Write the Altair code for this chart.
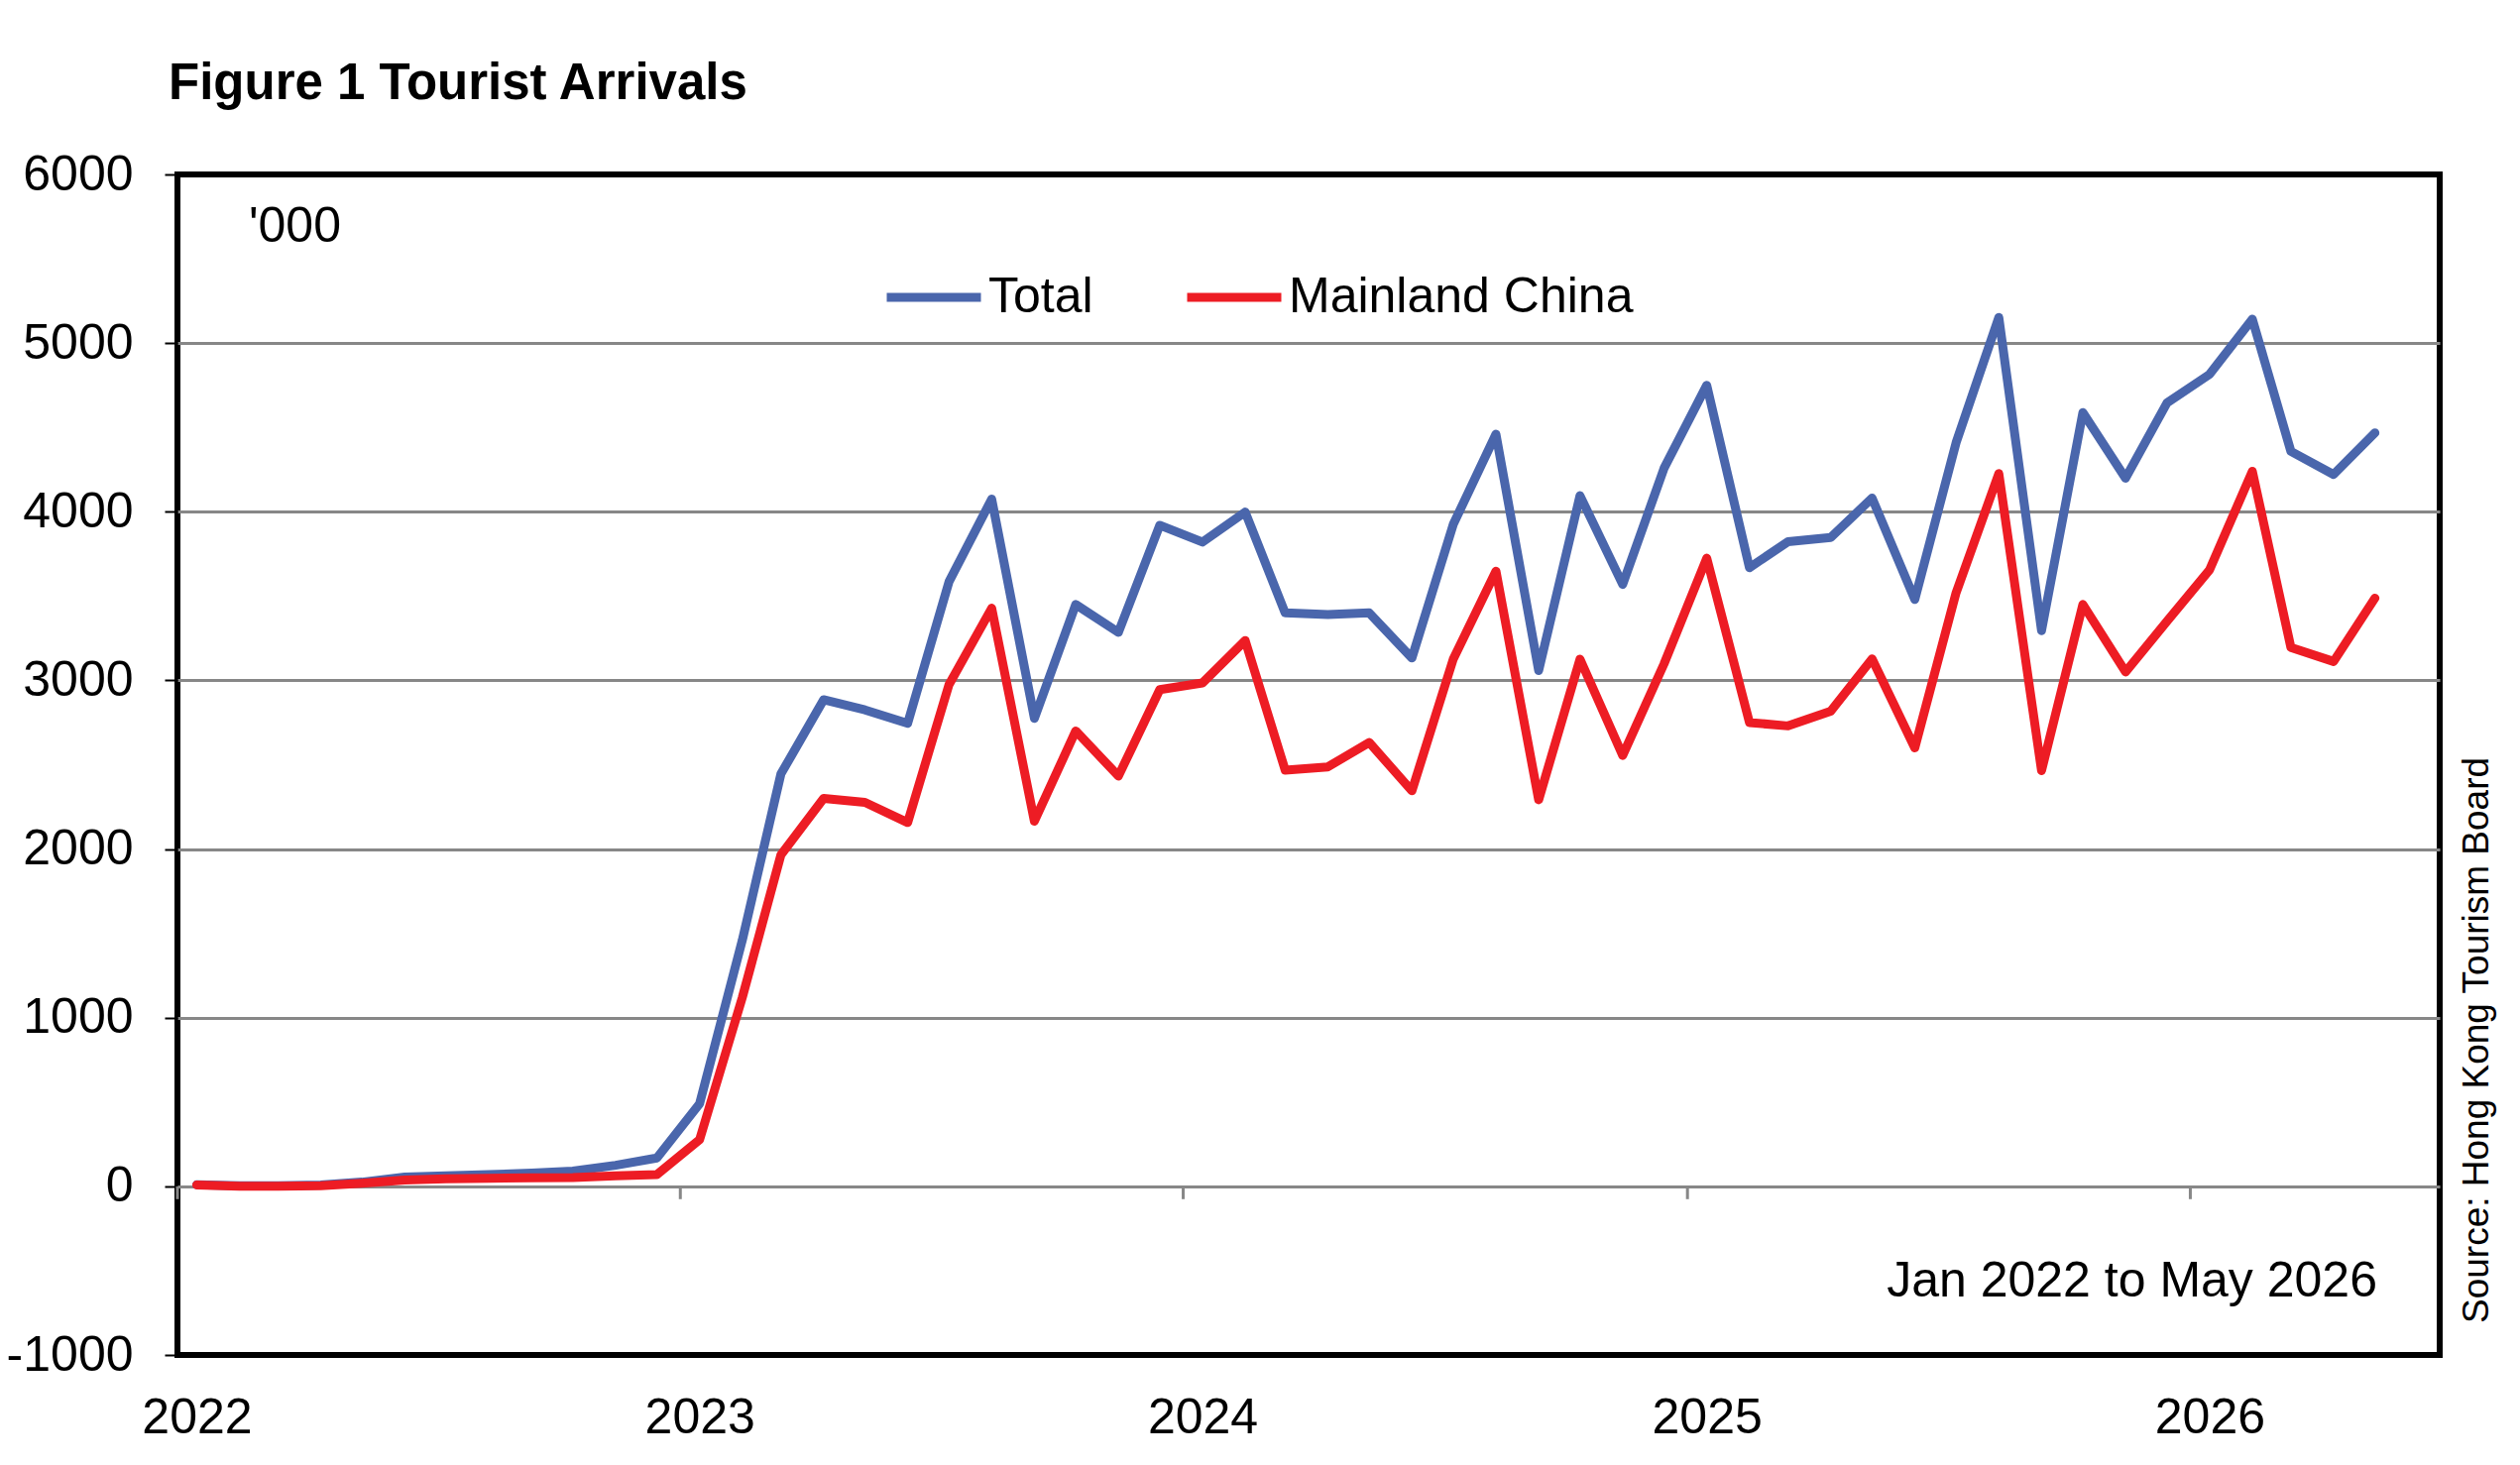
import altair as alt
import pandas as pd

FONT = "Liberation Sans"

years = [2022, 2023, 2024, 2025, 2026]

total = [
    10, 3, 3, 8, 25, 55, 62, 70, 78, 90, 125, 168,
    490, 1460, 2445, 2885, 2825, 2745, 3585, 4075, 2775, 3450, 3285, 3920,
    3820, 3998, 3400, 3390, 3400, 3133, 3925, 4460, 3058, 4095, 3569, 4258,
    4750, 3668, 3823, 3848, 4081, 3480, 4410, 5152, 3295, 4588, 4199, 4645,
    4815, 5142, 4358, 4221, 4468,
]

mainland = [
    8, 0, 0, 4, 18, 38, 44, 48, 50, 52, 62, 70,
    277, 1120, 1965, 2300, 2277, 2157, 2975, 3428, 2165, 2700, 2433, 2945,
    2985, 3236, 2468, 2487, 2632, 2345, 3126, 3648, 2292, 3126, 2555, 3098,
    3725, 2750, 2730, 2817, 3127, 2600, 3520, 4226, 2465, 3450, 3050, 3350,
    3656, 4240, 3195, 3112, 3488,
]

series_names = ["Total", "Mainland China"]
series_colors = ["#4A66AC", "#ED1C24"]

y_ticks = [-1000, 0, 1000, 2000, 3000, 4000, 5000, 6000]

months = [f"{2022 + i // 12}/{i % 12 + 1:02d}/15" for i in range(len(total))]
year_starts = [f"{y}/01/01" for y in years]

df_total = pd.DataFrame({"month": months, "value": total, "series": series_names[0]})
df_main = pd.DataFrame({"month": months, "value": mainland, "series": series_names[1]})
df_ticks = pd.DataFrame({"year": year_starts})

x_scale = alt.Scale(domain=[alt.DateTime(year=2022, month=1, date=1),
                            alt.DateTime(year=2026, month=7, date=1)])
y_scale = alt.Scale(domain=[-1000, 6000], nice=False, zero=False)
color_scale = alt.Scale(domain=series_names, range=series_colors)

# year labels sit centred on the January point (mid-month), as in the original
x_axis = alt.Axis(
    values=[alt.DateTime(year=y, month=1, date=15) for y in years],
    format="%Y", ticks=False, grid=False, domain=False,
    labelFontSize=50, labelFont=FONT, labelColor="black",
    labelPadding=38, labelFlush=False, labelOverlap=False,
)
y_axis = alt.Axis(
    values=y_ticks, grid=True, gridColor="#878787", gridWidth=3,
    gridOpacity={"condition": {"test": "datum.value == 6000 || datum.value == -1000",
                               "value": 0}, "value": 1},
    ticks=True, tickColor="black", tickWidth=2, tickSize=13,
    domain=False, labelFontSize=50, labelFont=FONT, labelColor="black",
    labelPadding=32, labelFlush=False, labelExpr="'' + datum.value",
)

legend = alt.Legend(
    orient="none", legendX=711, legendY=72, direction="horizontal",
    title=None, symbolType="stroke", symbolStrokeWidth=9, symbolSize=9025,
    labelFontSize=50, labelFont=FONT, labelColor="black", labelLimit=1000,
    columnPadding=76, labelOffset=3, padding=0,
)

line_total = alt.Chart(df_total).mark_line(
    strokeWidth=9, strokeCap="round", strokeJoin="round"
).encode(
    x=alt.X("month:T", scale=x_scale, axis=x_axis, title=None),
    y=alt.Y("value:Q", scale=y_scale, axis=y_axis, title=None),
    color=alt.Color("series:N", scale=color_scale, legend=legend),
)

line_main = alt.Chart(df_main).mark_line(
    strokeWidth=9, strokeCap="round", strokeJoin="round"
).encode(
    x=alt.X("month:T", scale=x_scale),
    y=alt.Y("value:Q", scale=y_scale),
    color=alt.Color("series:N", scale=color_scale, legend=legend),
)

x_ticks = alt.Chart(df_ticks).mark_rule(color="#878787", strokeWidth=3).encode(
    x=alt.X("year:T", scale=x_scale),
    y=alt.YDatum(0),
    y2=alt.Y2Datum(-76),
)

unit_text = alt.Chart(pd.DataFrame({"t": ["'000"]})).mark_text(
    align="left", baseline="middle", fontSize=50, font=FONT, color="black"
).encode(text="t:N", x=alt.value(72), y=alt.value(53))

period_text = alt.Chart(pd.DataFrame({"t": ["Jan 2022 to May 2026"]})).mark_text(
    align="right", baseline="middle", fontSize=50, font=FONT, color="black"
).encode(text="t:N", x=alt.value(2219), y=alt.value(1117))

source_text = alt.Chart(pd.DataFrame({"t": ["Source: Hong Kong Tourism Board"]})).mark_text(
    align="left", baseline="middle", fontSize=37, font=FONT, color="black", angle=270
).encode(text="t:N", x=alt.value(2320), y=alt.value(1159))

chart = alt.layer(
    x_ticks, line_total, line_main, unit_text, period_text, source_text
).properties(
    width=2282,
    height=1191,
    background="white",
    title=alt.TitleParams(
        "Figure 1 Tourist Arrivals", anchor="start", frame="group",
        fontSize=51, font=FONT, fontWeight="bold", color="black",
        baseline="alphabetic", offset=0, dx=-9,
    ),
    autosize=alt.AutoSizeParams(type="none"),
    padding={"left": 171, "top": 168, "right": 69, "bottom": 100},
).configure_view(
    stroke="black", strokeWidth=6
)

chart.save("out.html", embed_options={"renderer": "svg", "actions": False})
